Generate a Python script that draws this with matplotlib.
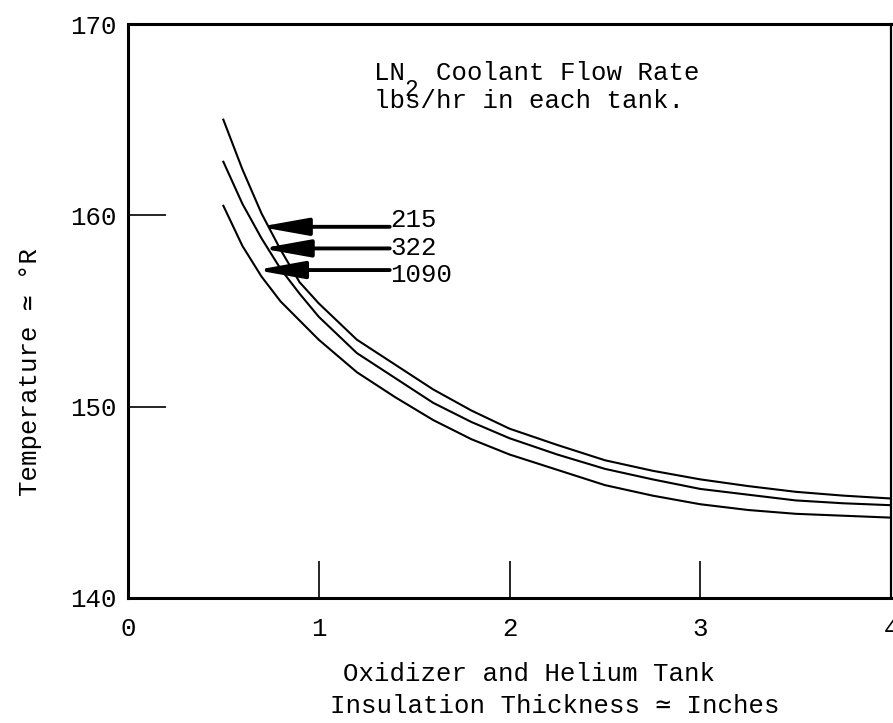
import matplotlib
matplotlib.use("Agg")
import matplotlib.pyplot as plt

# ── Data ──────────────────────────────────────────────────────────────────────
thickness = [0.5, 0.6, 0.7, 0.8, 0.9, 1.0, 1.2, 1.4, 1.6, 1.8, 2.0,
             2.25, 2.5, 2.75, 3.0, 3.25, 3.5, 3.75, 4.0]
temp_215  = [165.0, 162.4, 160.1, 158.2, 156.5, 155.4, 153.5, 152.2, 150.9,
             149.8, 148.85, 148.0, 147.2, 146.65, 146.2, 145.85, 145.55,
             145.35, 145.2]
temp_322  = [162.8, 160.6, 158.8, 157.2, 155.9, 154.7, 152.8, 151.5, 150.2,
             149.2, 148.35, 147.5, 146.75, 146.2, 145.7, 145.4, 145.1,
             144.95, 144.85]
temp_1090 = [160.5, 158.4, 156.8, 155.5, 154.5, 153.5, 151.8, 150.5, 149.3,
             148.3, 147.5, 146.7, 145.9, 145.35, 144.9, 144.6, 144.4,
             144.3, 144.2]

flow_labels = ["215", "322", "1090"]
arrow_tips  = [(0.69, 159.4), (0.70, 158.27), (0.67, 157.14)]
label_y     = [159.75, 158.3, 156.9]

x_ticks = [0, 1, 2, 3, 4]
y_ticks = [140, 150, 160, 170]

# ── Style ─────────────────────────────────────────────────────────────────────
plt.rcParams["font.family"] = ["Liberation Mono", "DejaVu Sans Mono"]
FS = 18.5
W, H = 893, 723


def fig_xy(px, py):
    # pixel position (from top-left) -> figure fraction
    return px / W, 1 - py / H


fig = plt.figure(figsize=(W / 100, H / 100), dpi=100, facecolor="white")
ax = fig.add_axes([0.1433, 0.1729, 0.8545, 0.7939])

for series in (temp_215, temp_322, temp_1090):
    ax.plot(thickness, series, color="black", lw=1.5)

ax.set_xlim(0, 4)
ax.set_ylim(140, 170)
ax.set_xticks(x_ticks)
ax.set_yticks(y_ticks)
ax.tick_params(direction="in", length=27, width=1.2, labelsize=FS)
ax.tick_params(axis="x", pad=14)
ax.tick_params(axis="y", pad=8)

for side in ("left", "bottom", "top"):
    ax.spines[side].set_linewidth(2.2)
ax.spines["right"].set_linewidth(1.6)

# axis titles (typed in the original, so placed line by line)
fig.text(*fig_xy(343, 674), "Oxidizer and Helium Tank", fontsize=FS,
         ha="left", va="center")
fig.text(*fig_xy(330, 706), "Insulation Thickness \u2243 Inches", fontsize=FS,
         ha="left", va="center")
ax.set_ylabel("Temperature \u2243 \u00b0R", fontsize=FS)
ax.yaxis.set_label_coords(-0.128, 0.394)
ax.yaxis.label.set_va("center")

# flow-rate arrows
for lab, (tx, ty), ly in zip(flow_labels, arrow_tips, label_y):
    ax.annotate("", xy=(tx, ty), xytext=(1.372, ty),
                arrowprops=dict(arrowstyle="-|>,head_length=1.45,head_width=0.26",
                                mutation_scale=20, lw=2.8, color="black",
                                shrinkA=0, shrinkB=0))
    ax.text(1.375, ly, lab, fontsize=FS, ha="left", va="center")

# legend note
ax.text(1.288, 167.44, "LN  Coolant Flow Rate", fontsize=FS,
        ha="left", va="center")
ax.text(1.45, 166.6, "2", fontsize=FS - 2, ha="left", va="center")
ax.text(1.288, 165.97, "lbs/hr in each tank.", fontsize=FS,
        ha="left", va="center")

fig.savefig("out.png", dpi=100, facecolor="white")
